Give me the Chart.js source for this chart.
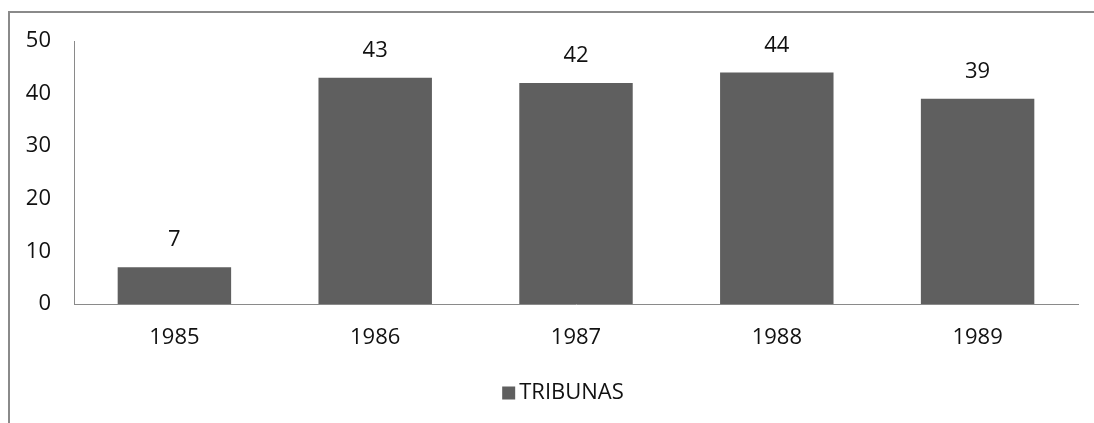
<!DOCTYPE html>
<html>
<head>
<meta charset="utf-8">
<script src="https://cdn.jsdelivr.net/npm/chart.js@4/dist/chart.umd.min.js"></script>
<style>
  body { margin: 0; background: #fff; }
  #wrap { position: relative; width: 1094px; height: 423px; }
  #frame { position: absolute; left: 8px; top: 11px; right: -4px; bottom: -4px; border-left: 2px solid #8a8a8a; border-top: 2px solid #8a8a8a; }
</style>
</head>
<body>
<div id="wrap">
  <div id="frame"></div>
  <canvas id="myBar"></canvas>
</div>
<script>
var years = ["1985", "1986", "1987", "1988", "1989"];
var tribunas = [7, 43, 42, 44, 39];
var yTicks = [0, 10, 20, 30, 40, 50];
var seriesName = "TRIBUNAS";

var font = "'Open Sans', 'DejaVu Sans', sans-serif";
var textColor = "#111";
var barColor = "#5f5f5f";

// numbers over each bar
var barLabels = {
  id: "barLabels",
  afterDatasetsDraw: function (chart) {
    var ctx = chart.ctx;
    var meta = chart.getDatasetMeta(0);
    ctx.save();
    ctx.font = "22px " + font;
    ctx.fillStyle = textColor;
    ctx.textAlign = "center";
    ctx.textBaseline = "middle";
    meta.data.forEach(function (bar, i) {
      ctx.fillText(chart.data.datasets[0].data[i], bar.x, bar.y - 27);
    });
    ctx.restore();
  }
};

// legend like the excel one: square close to the text
var smallLegend = {
  id: "smallLegend",
  afterDraw: function (chart) {
    var ctx = chart.ctx;
    var name = chart.data.datasets[0].label;
    ctx.save();
    ctx.font = "22px " + font;
    var w = ctx.measureText(name).width;
    var total = 13 + 4 + w;
    var x0 = chart.width / 2 + 16 - total / 2;
    var cy = 393;
    ctx.fillStyle = chart.data.datasets[0].backgroundColor;
    ctx.fillRect(x0, cy - 6.5, 13, 13);
    ctx.fillStyle = textColor;
    ctx.textBaseline = "middle";
    ctx.fillText(name, x0 + 17, cy);
    ctx.restore();
  }
};

var config1 = {
  type: "bar",
  data: {
    labels: years,
    datasets: [{
      label: seriesName,
      data: tribunas,
      backgroundColor: barColor,
      borderWidth: 0,
      categoryPercentage: 1,
      barPercentage: 0.565
    }]
  },
  options: {
    responsive: false,
    animation: false,
    layout: { padding: { left: 0, top: 41, right: 16, bottom: 49 } },
    plugins: {
      legend: { display: false },
      tooltip: { enabled: false }
    },
    scales: {
      x: {
        grid: { display: false, drawTicks: false },
        border: { color: "#8a8a8a", width: 1 },
        ticks: { color: textColor, padding: 21, font: { family: font, size: 22 } },
        afterFit: function (scale) { scale.height = 70; }
      },
      y: {
        min: 0,
        max: 50,
        grid: { display: false, drawTicks: false },
        border: { color: "#8a8a8a", width: 1 },
        afterBuildTicks: function (scale) {
          scale.ticks = yTicks.map(function (v) { return { value: v }; });
        },
        ticks: { color: textColor, padding: 23, font: { family: font, size: 22 } },
        afterFit: function (scale) { scale.width = 74; }
      }
    }
  },
  plugins: [barLabels, smallLegend]
};

var cv = document.getElementById("myBar");
cv.width = 1094;
cv.height = 423;
var chart = new Chart(cv, config1);
</script>
</body>
</html>
